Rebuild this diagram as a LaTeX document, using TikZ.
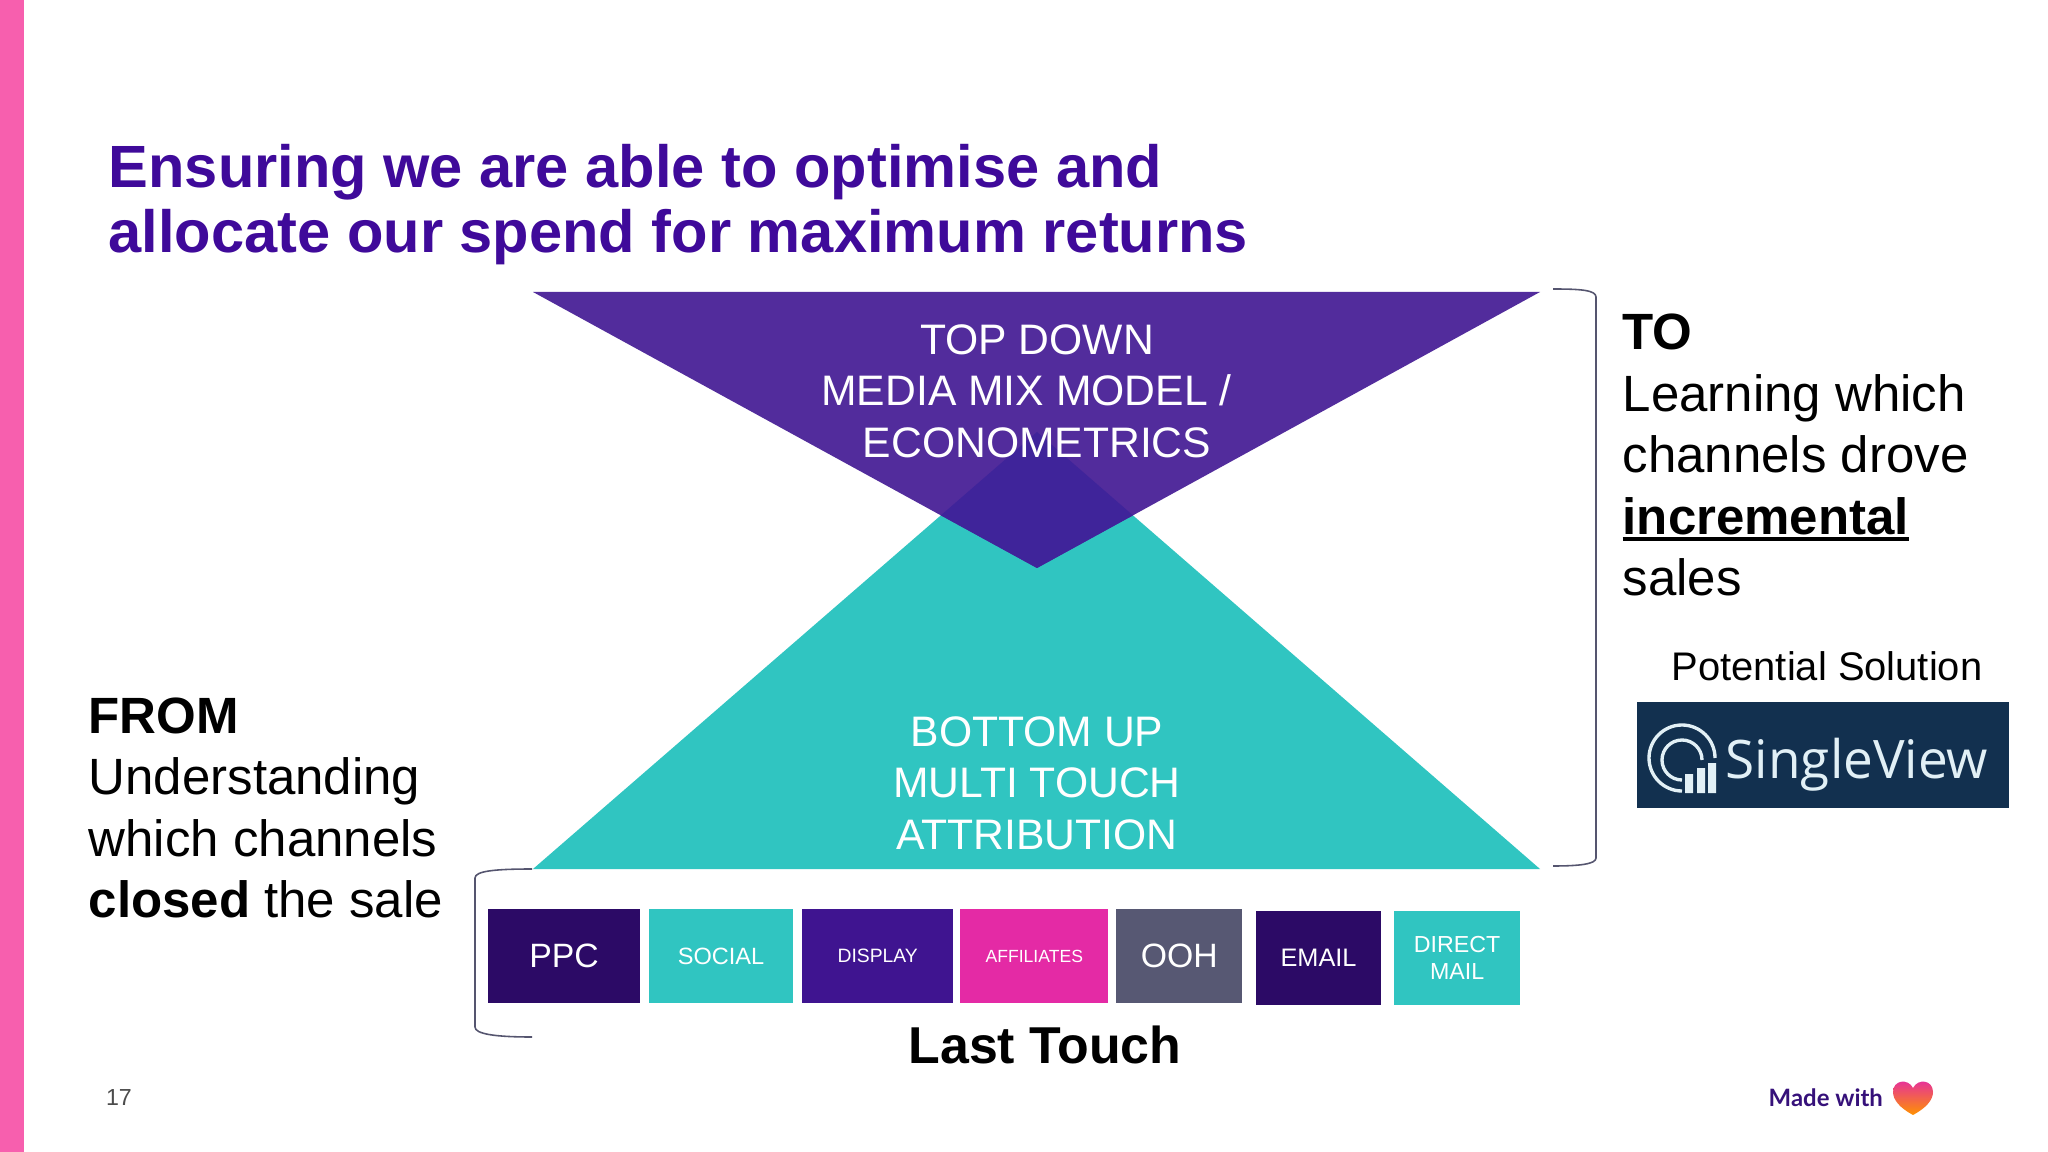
\documentclass[tikz,border=0pt]{standalone}
\usepackage{fontspec}
\setmainfont{Liberation Sans}
\newfontfamily\logofont{Open Sans}
\newfontfamily\madefont{Lato}
\usetikzlibrary{positioning}
\definecolor{barpink}{HTML}{F75FAE}
\definecolor{titlepurple}{HTML}{3F0A9A}
\definecolor{toppurple}{HTML}{522C9C}
\definecolor{overlap}{HTML}{3F249A}
\definecolor{teal}{HTML}{30C5C1}
\definecolor{darkpurple}{HTML}{2C0A66}
\definecolor{midpurple}{HTML}{3F1490}
\definecolor{hotpink}{HTML}{E42AA5}
\definecolor{slate}{HTML}{575873}
\definecolor{logoblue}{HTML}{12304F}
\definecolor{logotext}{HTML}{E2F0F6}
\definecolor{bracketgrey}{HTML}{55556F}
\newcommand{\fs}[2]{\fontsize{#1}{#2}\selectfont}
\newcommand{\thickul}[1]{\leavevmode\setbox0\hbox{#1}\rlap{\rule[-.13em]{\wd0}{.065em}}\box0}
\tikzset{
	heading/.style={font=\bfseries\fs{16.95}{18.55}, text=titlepurple, align=left, anchor=west, inner sep=0pt},
	tritext/.style={font=\fs{12.13}{14.6}, text=white, align=center, inner sep=0pt},
	sidetext/.style={font=\fs{14.5}{17.5}, text=black, align=left, anchor=west, inner sep=0pt},
	chbox/.style={rectangle, minimum height=0.94cm, inner sep=0pt, outer sep=0pt, text=white, align=center},
	bracket/.style={bracketgrey, line width=0.45pt},
	ring/.style={logotext, line width=0.95pt}
}
\begin{document}
\begin{tikzpicture}[x=0.01cm,y=-0.01cm]

	\useasboundingbox (0,0) rectangle (2048,1152);
	\fill[white] (0,0) rectangle (2048,1152);
	\fill[barpink] (0,0) rectangle (24,1152);

	\node[heading] (title) at (108,204.5) {Ensuring we are able to optimise and\\allocate our spend for maximum returns};

	\coordinate (topleft) at (533,292);
	\coordinate (topright) at (1540,292);
	\coordinate (toptip) at (1037,568);
	\coordinate (botleft) at (533,869);
	\coordinate (botright) at (1540,869);
	\coordinate (bottip) at (1037,432);

	\fill[teal] (botleft) -- (bottip) -- (botright) -- cycle;
	\fill[toppurple] (topleft) -- (topright) -- (toptip) -- cycle;
	\begin{scope}
		\clip (botleft) -- (bottip) -- (botright) -- cycle;
		\fill[overlap] (topleft) -- (topright) -- (toptip) -- cycle;
	\end{scope}

	\node[tritext] (topdown) at (1037,391) {TOP DOWN\\MEDIA MIX MODEL /\rule{6pt}{0pt}\\ECONOMETRICS};
	\node[tritext] (bottomup) at (1037,783) {BOTTOM UP\\MULTI TOUCH\\ATTRIBUTION};

	\draw[bracket] (532,869) .. controls (495,869) and (475,871) .. (475,878) -- (475,1027) .. controls (475,1034) and (495,1037) .. (532,1037);
	\draw[bracket] (1553,289) .. controls (1580,289) and (1596,290) .. (1596,297) -- (1596,858) .. controls (1596,864) and (1580,866) .. (1553,866);

	\node[chbox,fill=darkpurple,minimum width=1.52cm,font=\fs{9.6}{11}] (ppc) at (564,956) {PPC};
	\node[chbox,fill=teal,minimum width=1.44cm,font=\fs{6.7}{8}] (social) [right=0.09cm of ppc] {SOCIAL};
	\node[chbox,fill=midpurple,minimum width=1.51cm,font=\fs{5.5}{6.5}] (display) [right=0.09cm of social] {DISPLAY};
	\node[chbox,fill=hotpink,minimum width=1.48cm,font=\fs{5}{6}] (affiliates) [right=0.07cm of display] {AFFILIATES};
	\node[chbox,fill=slate,minimum width=1.26cm,font=\fs{9.6}{11}] (ooh) [right=0.08cm of affiliates] {OOH};
	\node[chbox,fill=darkpurple,minimum width=1.25cm,font=\fs{7.2}{8.5}] (email) at (1318.5,958) {EMAIL};
	\node[chbox,fill=teal,minimum width=1.26cm,font=\fs{6.6}{7.8}] (directmail) [right=0.13cm of email] {DIRECT\\MAIL};

	\node[font=\bfseries\fs{14.75}{16},inner sep=0pt] (lasttouch) at (1045,1045) {Last Touch};

	\node[sidetext] (from) at (88,808) {\textbf{FROM}\\Understanding\\which channels\\\textbf{closed} the sale};
	\node[sidetext] (to) at (1622,455) {\textbf{TO}\\Learning which\\channels drove\\\thickul{\textbf{incremental}}\\sales};

	\node[font=\fs{11.35}{13},inner sep=0pt] (potential) at (1827,666) {Potential Solution};
	\node[rectangle,fill=logoblue,minimum width=3.72cm,minimum height=1.06cm,inner sep=0pt] (logo) at (1823,755) {};
	\node[font=\logofont\fs{15.1}{17},text=logotext,inner sep=0pt,anchor=base west] (singleview) at (1725,778) {SingleView};
	\draw[ring] (1682,791) arc (90:360:33);
	\draw[ring] (1682,780) arc (90:360:20);
	\fill[logotext] (1685,774) rectangle (1693,793) (1697,768) rectangle (1705,793) (1708,763) rectangle (1716,793);

	\node[font=\fs{6.6}{8},text=black!70,inner sep=0pt] (pagenum) at (119,1098) {17};
	\node[font=\madefont\bfseries\fs{6.8}{8},text=midpurple!85!black,inner sep=0pt,anchor=west] (madewith) at (1768,1098) {Made with};
	\shade[top color=hotpink,bottom color=orange!85!yellow] (1913,1115) .. controls (1900,1108) and (1893,1100) .. (1893,1092) .. controls (1893,1080) and (1908,1078) .. (1913,1088) .. controls (1918,1078) and (1933,1080) .. (1933,1092) .. controls (1933,1100) and (1926,1108) .. (1913,1115) -- cycle;

\end{tikzpicture}
\end{document}
